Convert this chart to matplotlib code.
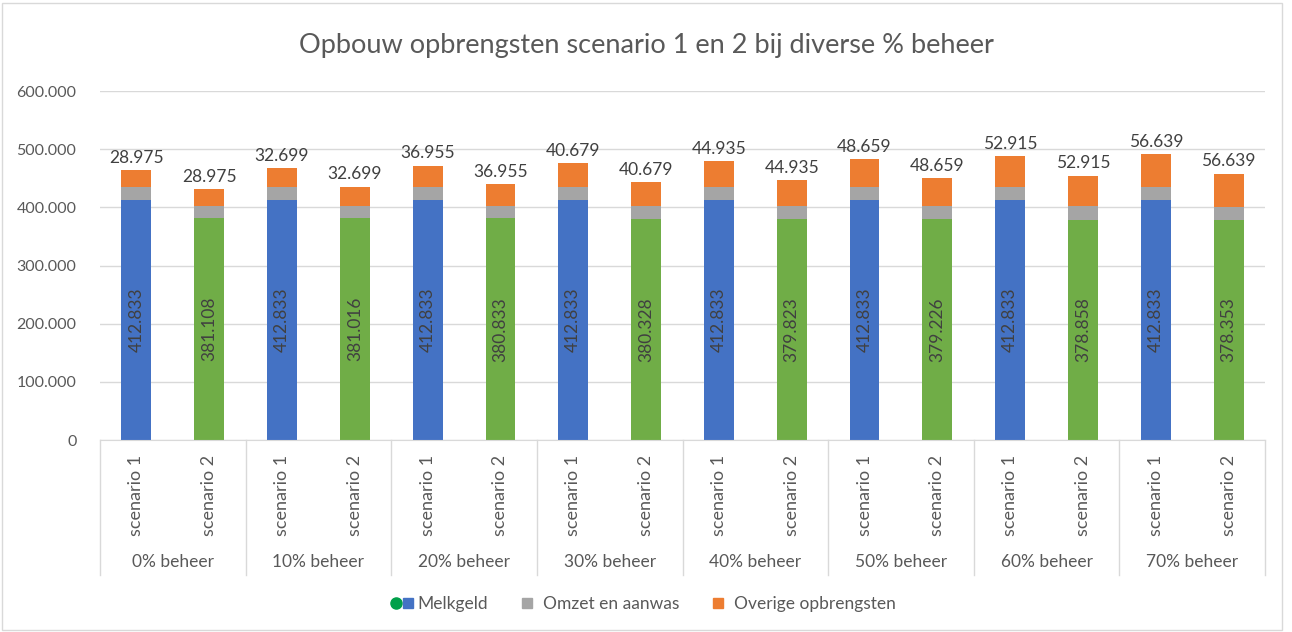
import matplotlib
matplotlib.use('Agg')
import matplotlib.pyplot as plt
import matplotlib.transforms as mtransforms
from matplotlib.lines import Line2D
from matplotlib.legend_handler import HandlerTuple

plt.rcParams['font.family'] = ['Lato', 'DejaVu Sans']

# data
groups = ['0% beheer', '10% beheer', '20% beheer', '30% beheer',
          '40% beheer', '50% beheer', '60% beheer', '70% beheer']
scenarios = ['scenario 1', 'scenario 2']
melkgeld_s1 = [412833] * 8
melkgeld_s2 = [381108, 381016, 380833, 380328, 379823, 379226, 378858, 378353]
omzet_s1 = [22000] * 8
omzet_s2 = [22000, 22100, 22200, 22300, 22400, 22600, 22800, 23000]
overige = [28975, 32699, 36955, 40679, 44935, 48659, 52915, 56639]

def fmt(v):
    return '{:,.0f}'.format(v).replace(',', '.')

txt = '#595959'
c_blue, c_green, c_gray, c_orange = '#4472C4', '#70AD47', '#A5A5A5', '#ED7D31'

fig = plt.figure(figsize=(12.92, 6.32), dpi=100)
ax = fig.add_axes([100/1292, 192/632, 1165/1292, 349/632])

w = 0.41
for g in range(len(groups)):
    for i in range(2):
        x = g*2 + i + 0.5
        base = melkgeld_s1[g] if i == 0 else melkgeld_s2[g]
        om = omzet_s1[g] if i == 0 else omzet_s2[g]
        ov = overige[g]
        ax.bar(x, base, w, color=c_blue if i == 0 else c_green, zorder=2)
        ax.bar(x, om, w, bottom=base, color=c_gray, zorder=2)
        ax.bar(x, ov, w, bottom=base+om, color=c_orange, zorder=2)
        ax.text(x, base/2, fmt(base), rotation=90, ha='center', va='center',
                fontsize=12.5, color='#404040')
        ax.annotate(fmt(ov), (x, base+om+ov), xytext=(0, 3), textcoords='offset points',
                    ha='center', va='bottom', fontsize=12.5, color='#404040')

ax.set_xlim(0, 16)
ax.set_ylim(0, 600000)
ax.set_yticks(range(0, 600001, 100000))
ax.set_yticklabels([fmt(v) for v in range(0, 600001, 100000)], color=txt, fontsize=11.5)
ax.tick_params(axis='y', length=0, pad=17)
ax.set_xticks([])
ax.grid(axis='y', color='#D9D9D9', linewidth=1, zorder=0)
for s in ['top', 'right', 'left']:
    ax.spines[s].set_visible(False)
ax.spines['bottom'].set_color('#D9D9D9')

# category axis with two levels
trans = mtransforms.blended_transform_factory(ax.transData, ax.transAxes)
for k in range(len(groups) + 1):
    ax.plot([k*2, k*2], [0, -0.387], transform=trans, color='#D9D9D9',
            linewidth=1, clip_on=False)
for g in range(len(groups)):
    for i in range(2):
        ax.text(g*2 + i + 0.5, -0.158, scenarios[i], rotation=90, transform=trans,
                ha='center', va='center', fontsize=13, color=txt)
    ax.text(g*2 + 1, -0.35, groups[g], transform=trans, ha='center', va='center',
            fontsize=12.5, color=txt)

fig.text(0.5, 1 - 46/632, 'Opbouw opbrengsten scenario 1 en 2 bij diverse % beheer',
         ha='center', va='center', fontsize=19.5, color=txt)

h1 = (Line2D([], [], marker='o', linestyle='none', color='#00A04A', markersize=8),
      Line2D([], [], marker='s', linestyle='none', color=c_blue, markersize=7))
h2 = Line2D([], [], marker='s', linestyle='none', color=c_gray, markersize=7)
h3 = Line2D([], [], marker='s', linestyle='none', color=c_orange, markersize=7)
fig.legend([h1, h2, h3], ['Melkgeld', 'Omzet en aanwas', 'Overige opbrengsten'],
           handler_map={tuple: HandlerTuple(ndivide=None, pad=0.15)},
           loc='center', bbox_to_anchor=(0.498, 1 - 604/632), ncol=3, frameon=False,
           fontsize=12.5, labelcolor=txt, handlelength=1.3, handletextpad=0.25,
           columnspacing=1.6)

# chart border
fig.add_artist(plt.Rectangle((2/1292, 2/632), 1280/1292, 627/632, transform=fig.transFigure,
                             fill=False, edgecolor='#D9D9D9', linewidth=1))

fig.savefig('out.png', dpi=100, facecolor='white')
